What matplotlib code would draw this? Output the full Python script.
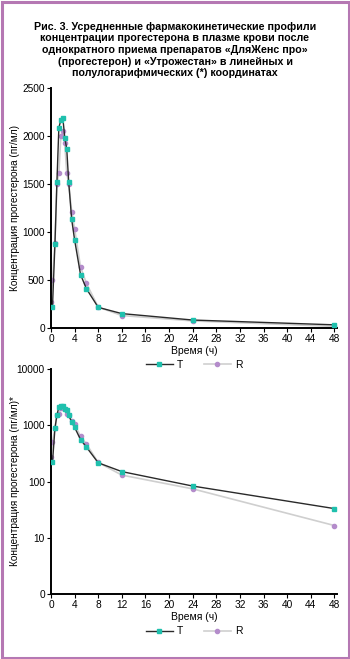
import matplotlib.pyplot as plt
import matplotlib.patches as patches
import matplotlib.ticker as ticker

plt.rcParams['font.family'] = ['Liberation Sans', 'DejaVu Sans']

# Time points (h) and mean concentrations (pg/ml)
time_t = [0.25, 0.67, 1.0, 1.33, 1.67, 2.0, 2.33, 2.67, 3.0, 3.5, 4.0, 5.0, 6.0, 8.0, 12.0, 24.0, 48.0]
conc_t = [220, 880, 1517, 2085, 2168, 2192, 1984, 1863, 1520, 1132, 918, 557, 409, 215, 150, 83, 33]

time_r = [0.0, 0.25, 0.67, 1.0, 1.33, 1.67, 2.0, 2.33, 2.67, 3.0, 3.5, 4.0, 5.0, 6.0, 8.0, 12.0, 24.0, 48.0]
conc_r = [275, 500, 885, 1503, 1610, 2001, 2053, 1929, 1613, 1503, 1212, 1032, 637, 464, 218, 130, 74, 16.5]

x_ticks = list(range(0, 49, 4))
title = ('Рис. 3. Усредненные фармакокинетические профили\n'
         'концентрации прогестерона в плазме крови после\n'
         'однократного приема препаратов «ДляЖенс про»\n'
         '(прогестерон) и «Утрожестан» в линейных и\n'
         'полулогарифмических (*) координатах')

teal = '#1fc0ad'
purple = '#b48ccb'
W, H = 350, 659

fig = plt.figure(figsize=(W / 100, H / 100), dpi=100)
fig.patches.append(patches.Rectangle((1.5 / W, 1.5 / H), 1 - 3 / W, 1 - 3 / H,
                                     transform=fig.transFigure, fill=False,
                                     edgecolor='#b578b3', linewidth=2.2))
fig.text(0.5, 1 - 50 / H, title, ha='center', va='center', fontsize=7.7,
         fontweight='bold', linespacing=1.2)


def draw_panel(ax, ylabel):
    ax.plot(time_r, conc_r, color='#cfcfcf', linewidth=1.2, marker='o', markersize=3,
            markerfacecolor=purple, markeredgecolor=purple, label='R', zorder=2)
    ax.plot(time_t, conc_t, color='#2a2a2a', linewidth=1.0, marker='s', markersize=3,
            markerfacecolor=teal, markeredgecolor=teal, label='T', zorder=3)
    ax.set_xlim(0, 48.5)
    ax.set_xticks(x_ticks)
    ax.spines['top'].set_visible(False)
    ax.spines['right'].set_visible(False)
    ax.spines['left'].set_linewidth(1.4)
    ax.spines['bottom'].set_linewidth(1.4)
    ax.tick_params(labelsize=7.3, length=3, width=0.8, pad=1.5)
    ax.set_xlabel('Время (ч)', fontsize=7.5, labelpad=1)
    ax.set_ylabel(ylabel, fontsize=7.2)
    ax.yaxis.set_label_coords(-0.108, 0.5)
    handles, labels = ax.get_legend_handles_labels()
    ax.legend(handles[::-1], labels[::-1], loc='upper center', bbox_to_anchor=(0.5, -0.115),
              ncol=2, frameon=False, fontsize=7.5, handlelength=2.6, handletextpad=0.4,
              columnspacing=2.0, borderaxespad=0)


ax1 = fig.add_axes([51 / W, 1 - 328 / H, 286.3 / W, 240 / H])
draw_panel(ax1, 'Концентрация прогестерона (пг/мл)')
ax1.set_ylim(0, 2500)
ax1.set_yticks([0, 500, 1000, 1500, 2000, 2500])

ax2 = fig.add_axes([51 / W, 1 - 594 / H, 286.3 / W, 225 / H])
draw_panel(ax2, 'Концентрация прогестерона (пг/мл)*')
ax2.set_yscale('log')
ax2.set_ylim(1, 10000)
ax2.set_yticks([1, 10, 100, 1000, 10000])
ax2.set_yticklabels(['0', '10', '100', '1000', '10000'])
ax2.yaxis.set_minor_locator(ticker.NullLocator())
ax2.legend_.set_bbox_to_anchor((0.5, -0.125))

fig.savefig('out.png', dpi=100)
